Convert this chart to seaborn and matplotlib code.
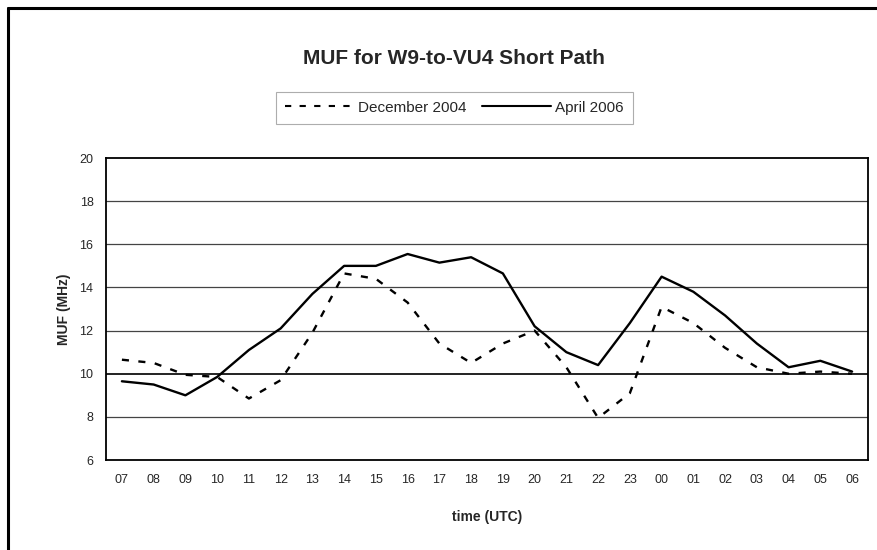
import numpy as np
import pandas as pd
import seaborn as sns
import matplotlib.pyplot as plt
from matplotlib.lines import Line2D

# Hour labels along the x axis (UTC)
hours = ["07", "08", "09", "10", "11", "12", "13", "14", "15", "16", "17", "18",
         "19", "20", "21", "22", "23", "00", "01", "02", "03", "04", "05", "06"]

# MUF values (MHz)
dec_2004 = [10.65, 10.5, 9.95, 9.85, 8.85, 9.7, 11.9, 14.65, 14.4, 13.3, 11.4, 10.5,
            11.4, 12.0, 10.3, 7.95, 9.1, 13.1, 12.35, 11.2, 10.3, 10.0, 10.1, 10.0]
apr_2006 = [9.65, 9.5, 9.0, 9.85, 11.1, 12.1, 13.7, 15.0, 15.0, 15.55, 15.15, 15.4,
            14.65, 12.2, 11.0, 10.4, 12.35, 14.5, 13.8, 12.7, 11.4, 10.3, 10.6, 10.1]

series_names = ["December 2004", "April 2006"]

df = pd.DataFrame({
    "pos": list(range(len(hours))) * 2,
    "muf": dec_2004 + apr_2006,
    "series": [series_names[0]] * len(hours) + [series_names[1]] * len(hours),
})

sns.set_style("white")
plt.rcParams["font.family"] = ["Liberation Sans", "DejaVu Sans"]

fig = plt.figure(figsize=(8.77, 5.5), dpi=100)
ax = fig.add_axes([0.1209, 0.1636, 0.8688, 0.5491])

sns.lineplot(data=df[df.series == series_names[0]], x="pos", y="muf", ax=ax,
             color="black", linewidth=1.7, dashes=False, legend=False)
ax.lines[-1].set_dashes((3, 4))
sns.lineplot(data=df[df.series == series_names[1]], x="pos", y="muf", ax=ax,
             color="black", linewidth=1.7, legend=False)

# axes limits and grid
ax.set_xlim(-0.5, len(hours) - 0.5)
ax.set_ylim(6, 20)
ax.set_yticks(np.arange(6, 21, 2))
ax.set_yticks(np.arange(7, 20, 2), minor=True)
for yv in np.arange(8, 20, 2):
    ax.axhline(yv, color="#222222" if yv == 10 else "#444444",
               linewidth=1.4 if yv == 10 else 0.9, zorder=0)

# category axis: tick marks between categories, labels in the middle
ax.set_xticks(np.arange(-0.5, len(hours), 1.0))
ax.set_xticklabels([])
ax.set_xticks(np.arange(len(hours)), minor=True)
ax.set_xticklabels(hours, minor=True, fontsize=9)
ax.tick_params(axis="x", which="major", direction="out", length=4, width=1, color="black")
ax.tick_params(axis="x", which="minor", length=0, pad=10)
ax.tick_params(axis="y", which="major", direction="out", length=5, width=1,
               color="black", labelsize=9, pad=4)
ax.tick_params(axis="y", which="minor", direction="out", length=3, width=1, color="black")

for side in ["left", "bottom", "top", "right"]:
    ax.spines[side].set_visible(True)
    ax.spines[side].set_color("black")
    ax.spines[side].set_linewidth(1.3)

ax.set_xlabel("time (UTC)", fontsize=10, fontweight="bold", labelpad=17)
ax.set_ylabel("MUF (MHz)", fontsize=10, fontweight="bold", labelpad=6)

fig.text(0.518, 0.893, "MUF for W9-to-VU4 Short Path", ha="center", va="center",
         fontsize=15, fontweight="bold")

handles = [Line2D([], [], color="black", linewidth=1.5, dashes=(3, 4)),
           Line2D([], [], color="black", linewidth=1.5)]
leg = fig.legend(handles, series_names, loc="center", bbox_to_anchor=(0.518, 0.804),
                 ncol=2, frameon=True, fontsize=11, handlelength=4.5, handletextpad=0.3,
                 columnspacing=1.0, fancybox=False, borderpad=0.6)
leg.get_frame().set_edgecolor("#999999")
leg.get_frame().set_linewidth(0.8)

# outer frame of the picture
fig.add_artist(Line2D([0.009, 0.009], [0.0, 0.985], transform=fig.transFigure,
                      color="black", linewidth=2.2))
fig.add_artist(Line2D([0.009, 1.0], [0.985, 0.985], transform=fig.transFigure,
                      color="black", linewidth=2.2))

fig.savefig("out.png", dpi=100, facecolor="white")
